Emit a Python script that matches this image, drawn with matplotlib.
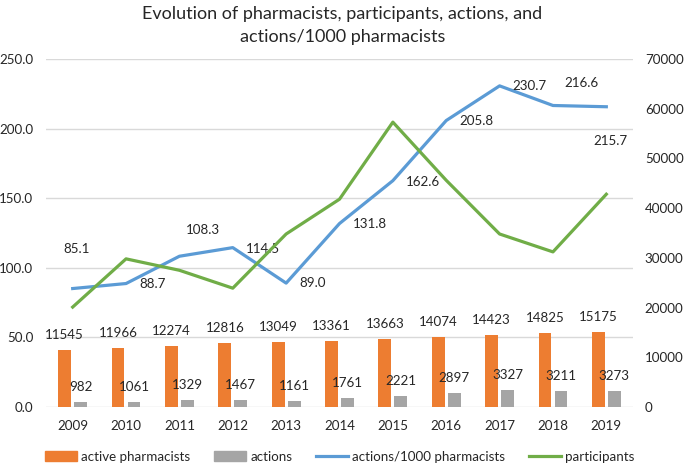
import matplotlib.pyplot as plt
from matplotlib.lines import Line2D
from matplotlib.patches import Patch

plt.rcParams['font.family'] = ['Lato', 'DejaVu Sans']

years = ["2009", "2010", "2011", "2012", "2013", "2014", "2015", "2016", "2017", "2018", "2019"]
active_pharmacists = [11545, 11966, 12274, 12816, 13049, 13361, 13663, 14074, 14423, 14825, 15175]
actions = [982, 1061, 1329, 1467, 1161, 1761, 2221, 2897, 3327, 3211, 3273]
actions_per_1000 = [85.1, 88.7, 108.3, 114.5, 89.0, 131.8, 162.6, 205.8, 230.7, 216.6, 215.7]
participants = [20100, 29800, 27500, 23900, 34800, 41800, 57300, 45600, 34800, 31200, 42800]

# label offsets in pixels for the ratio line (Excel placed them by hand-ish)
ratio_label_offsets = [(4, 40), (27, 0), (24, 26), (30, -1), (26, 0), (30, 0),
                       (30, -1), (30, 0), (30, 0), (28, 22), (4, -34)]

orange = "#ED7D31"
gray = "#A5A5A5"
blue = "#5B9BD5"
green = "#70AD47"
txt = "#262626"
fs = 9.6

fig = plt.figure(figsize=(6.85, 4.66), dpi=100)
ax = fig.add_axes([46 / 685, (466 - 407) / 466, 587 / 685, 348 / 466])
ax2 = ax.twinx()

x = list(range(len(years)))
w = 0.24
xo = [i - 0.15 for i in x]
xg = [i + 0.15 for i in x]

# bars and participants on right axis
ax2.bar(xo, active_pharmacists, width=w, color=orange, zorder=2)
ax2.bar(xg, actions, width=w, color=gray, zorder=2)
ax2.plot(x, participants, color=green, lw=2.3, zorder=3)
for xi, v in zip(xo, active_pharmacists):
    ax2.annotate(str(v), (xi, v), xytext=(0, 15), textcoords="offset pixels",
                 ha="center", va="center", fontsize=fs, color=txt)
for xi, v in zip(xg, actions):
    ax2.annotate(str(v), (xi, v), xytext=(0, 15), textcoords="offset pixels",
                 ha="center", va="center", fontsize=fs, color=txt)

# ratio line on left axis
ax.plot(x, actions_per_1000, color=blue, lw=2.3, zorder=3)
for xi, v, off in zip(x, actions_per_1000, ratio_label_offsets):
    ax.annotate(f"{v:.1f}", (xi, v), xytext=off, textcoords="offset pixels",
                ha="center", va="center", fontsize=fs, color=txt)

ax.set_xlim(-0.5, len(years) - 0.5)
ax.set_ylim(0, 250)
ax2.set_ylim(0, 70000)
ax.set_yticks([0, 50, 100, 150, 200, 250])
ax.set_yticklabels([f"{t:.1f}" for t in [0, 50, 100, 150, 200, 250]])
ax2.set_yticks(range(0, 70001, 10000))
ax.set_xticks(x)
ax.set_xticklabels(years)
ax.grid(axis="y", color="#D9D9D9", lw=1)
ax.set_axisbelow(True)
for a in (ax, ax2):
    for s in a.spines.values():
        s.set_visible(False)
    a.tick_params(length=0, labelsize=fs, colors=txt)
ax.tick_params(axis="y", pad=9)
ax2.tick_params(axis="y", pad=8.5)
ax.tick_params(axis="x", pad=9)

fig.text(0.5, 1 - 14 / 466, "Evolution of pharmacists, participants, actions, and",
         ha="center", va="center", fontsize=13, color=txt)
fig.text(0.5, 1 - 37 / 466, "actions/1000 pharmacists",
         ha="center", va="center", fontsize=13, color=txt)

handles = [Patch(color=orange), Patch(color=gray),
           Line2D([], [], color=blue, lw=2.3), Line2D([], [], color=green, lw=2.3)]
labels = ["active pharmacists", "actions", "actions/1000 pharmacists", "participants"]
fig.legend(handles, labels, loc="center", bbox_to_anchor=(340 / 685, 1 - 457 / 466),
           ncol=4, frameon=False, fontsize=fs, handlelength=2.4, handleheight=0.8,
           handletextpad=0.3, columnspacing=1.8, labelcolor=txt)

fig.savefig("out.png", dpi=100)
